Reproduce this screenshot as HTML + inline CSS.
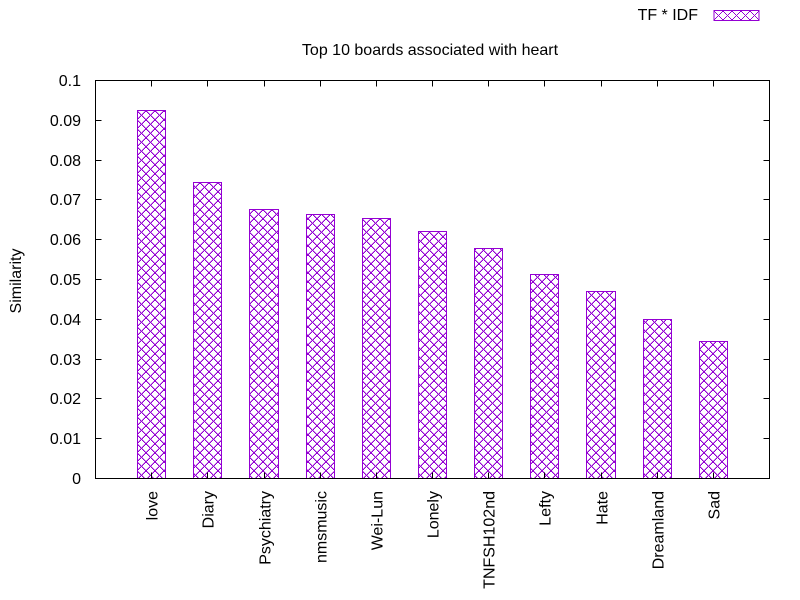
<!DOCTYPE html>
<html>
<head>
<meta charset="utf-8">
<title>Top 10 boards associated with heart</title>
<style>
html,body{margin:0;padding:0;background:#fff;}
svg{display:block;}
text{font-family:"Liberation Sans",sans-serif;font-size:16px;fill:#000;}
</style>
</head>
<body>
<svg id="chart" width="800" height="600" viewBox="0 0 800 600" xmlns="http://www.w3.org/2000/svg">
<defs>
<pattern id="hatch" patternUnits="userSpaceOnUse" x="137" y="111" width="9" height="9" shape-rendering="crispEdges">
<path fill="#9400d3" fill-opacity="0.45" d="M1 0h1v1h-1zM2 1h1v1h-1zM3 2h1v1h-1zM4 3h1v1h-1zM5 4h1v1h-1zM6 5h1v1h-1zM7 6h1v1h-1zM8 7h1v1h-1zM7 0h1v1h-1zM6 1h1v1h-1zM5 2h1v1h-1zM3 4h1v1h-1zM2 5h1v1h-1zM1 6h1v1h-1zM0 7h1v1h-1z"/>
<path fill="#9400d3" d="M0 0h1v1h-1zM1 1h1v1h-1zM2 2h1v1h-1zM3 3h1v1h-1zM4 4h1v1h-1zM5 5h1v1h-1zM6 6h1v1h-1zM7 7h1v1h-1zM8 8h1v1h-1zM8 0h1v1h-1zM7 1h1v1h-1zM6 2h1v1h-1zM5 3h1v1h-1zM3 5h1v1h-1zM2 6h1v1h-1zM1 7h1v1h-1zM0 8h1v1h-1z"/>
</pattern>
<pattern id="hatch-legend" patternUnits="userSpaceOnUse" x="714" y="11" width="9" height="9" shape-rendering="crispEdges">
<path fill="#9400d3" d="M0 0h1v1h-1zM1 1h1v1h-1zM2 2h1v1h-1zM3 3h1v1h-1zM4 4h1v1h-1zM5 5h1v1h-1zM6 6h1v1h-1zM7 7h1v1h-1zM8 8h1v1h-1zM8 0h1v1h-1zM7 1h1v1h-1zM6 2h1v1h-1zM5 3h1v1h-1zM3 5h1v1h-1zM2 6h1v1h-1zM1 7h1v1h-1zM0 8h1v1h-1z"/>
</pattern>
</defs>
<text x="430" y="55" text-anchor="middle">Top 10 boards associated with heart</text>
<text transform="translate(21,281) rotate(-90)" text-anchor="middle">Similarity</text>
<text x="698" y="20" text-anchor="end">TF * IDF</text>
<rect x="714" y="10.5" width="45" height="10" fill="url(#hatch-legend)" stroke="#9400d3" stroke-width="1" shape-rendering="crispEdges"/>
<g id="bars"></g>
<g id="ticks"></g>
<g id="labels"></g>
<rect x="95.5" y="80.5" width="674" height="398" fill="none" stroke="#000" stroke-width="1" shape-rendering="crispEdges"/>
</svg>
<script>
const categories = ["love","Diary","Psychiatry","nmsmusic","Wei-Lun","Lonely","TNFSH102nd","Lefty","Hate","Dreamland","Sad"];
const similarity = [0.0925,0.0743,0.0677,0.0663,0.0653,0.0621,0.0579,0.0513,0.0470,0.0400,0.0345];
const yTickLabels = ["0","0.01","0.02","0.03","0.04","0.05","0.06","0.07","0.08","0.09","0.1"];
const yTickValues = [0,0.01,0.02,0.03,0.04,0.05,0.06,0.07,0.08,0.09,0.1];

const NS = "http://www.w3.org/2000/svg";
const plotLeft = 95.5, plotRight = 769.5, plotTop = 80.5, plotBottom = 478.5;
const xMin = -1, xMax = 11, yMin = 0, yMax = 0.1, barUnits = 0.5;
function xScale(v){ return plotLeft + (v - xMin) / (xMax - xMin) * (plotRight - plotLeft); }
function yScale(v){ return plotBottom - (v - yMin) / (yMax - yMin) * (plotBottom - plotTop); }
function make(tag, parent, attrs){
  const el = document.createElementNS(NS, tag);
  for (const k in attrs) el.setAttribute(k, attrs[k]);
  parent.appendChild(el);
  return el;
}
const bars = document.getElementById("bars");
const ticks = document.getElementById("ticks");
const labels = document.getElementById("labels");
const halfBar = (xScale(barUnits) - xScale(0)) / 2;

yTickValues.forEach(function(v, i){
  const y = Math.floor(yScale(v)) + 0.5;
  const a = make("line", ticks, {x1: plotLeft, x2: plotLeft + 6, y1: y, y2: y, stroke: "#000", "shape-rendering": "crispEdges"});
  
  
  const b = make("line", ticks, {x1: plotRight - 6, x2: plotRight, y1: y, y2: y, stroke: "#000", "shape-rendering": "crispEdges"});
  
  
  const t = make("text", labels, {x: 81, y: y + 5.5, "text-anchor": "end"});
  t.textContent = yTickLabels[i];
  
  
});

categories.forEach(function(name, i){
  const cx = xScale(i);
  const left = Math.floor(cx - halfBar) + 0.5;
  const right = Math.floor(cx + halfBar) + 0.5;
  const top = Math.round(yScale(similarity[i]) - 0.5) + 0.5;
  const r = make("rect", bars, {x: left, y: top, width: right - left, height: plotBottom - top, fill: "url(#hatch)", stroke: "#9400d3", "stroke-width": 1, "shape-rendering": "crispEdges"});
  
  
  const tx = Math.floor(cx) + 0.5;
  const a = make("line", ticks, {x1: tx, x2: tx, y1: plotBottom - 6, y2: plotBottom, stroke: "#000", "shape-rendering": "crispEdges"});
  
  
  const b = make("line", ticks, {x1: tx, x2: tx, y1: plotTop, y2: plotTop + 6, stroke: "#000", "shape-rendering": "crispEdges"});
  
  
  const t = make("text", labels, {transform: "translate(" + (tx + 6) + ",491) rotate(-90)", "text-anchor": "end"});
  t.textContent = name;
  
  
});
</script>
</body>
</html>
